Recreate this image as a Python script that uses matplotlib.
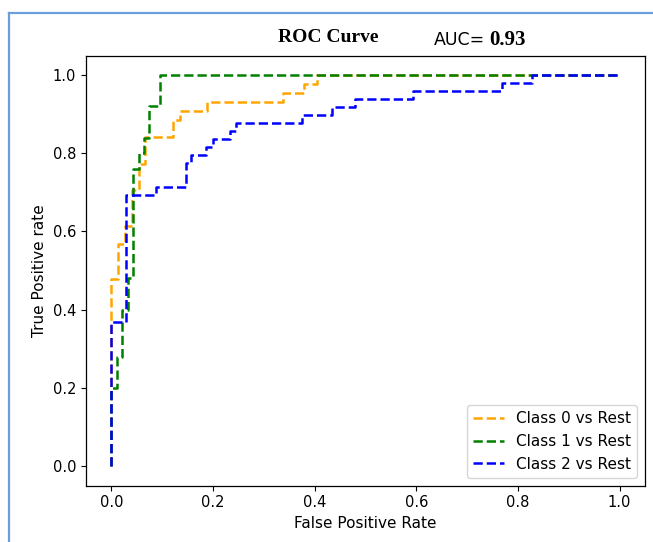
import matplotlib; matplotlib.use("Agg")
import matplotlib.pyplot as plt
from matplotlib.lines import Line2D

# ROC points (corner points, as roc_curve gives them)
fpr_0 = [0, 0, 0.013, 0.013, 0.026, 0.026, 0.041, 0.041, 0.054, 0.054, 0.067, 0.067,
         0.121, 0.121, 0.134, 0.134, 0.188, 0.188, 0.337, 0.337, 0.378, 0.378, 0.404, 0.404, 1.0]
tpr_0 = [0, 0.477, 0.477, 0.568, 0.568, 0.614, 0.614, 0.705, 0.705, 0.773, 0.773, 0.841,
         0.841, 0.886, 0.886, 0.909, 0.909, 0.932, 0.932, 0.955, 0.955, 0.977, 0.977, 1.0, 1.0]

fpr_1 = [0, 0, 0.0104, 0.0104, 0.021, 0.021, 0.032, 0.032, 0.043, 0.043, 0.054, 0.054,
         0.064, 0.064, 0.074, 0.074, 0.096, 0.096, 1.0]
tpr_1 = [0, 0.2, 0.2, 0.28, 0.28, 0.4, 0.4, 0.48, 0.48, 0.76, 0.76, 0.8,
         0.8, 0.84, 0.84, 0.92, 0.92, 1.0, 1.0]

fpr_2 = [0, 0, 0.028, 0.028, 0.087, 0.087, 0.146, 0.146, 0.157, 0.157, 0.187, 0.187,
         0.2, 0.2, 0.233, 0.233, 0.245, 0.245, 0.376, 0.376, 0.435, 0.435, 0.479, 0.479,
         0.594, 0.594, 0.768, 0.768, 0.827, 0.827, 1.0]
tpr_2 = [0, 0.367, 0.367, 0.694, 0.694, 0.714, 0.714, 0.776, 0.776, 0.796, 0.796, 0.816,
         0.816, 0.837, 0.837, 0.857, 0.857, 0.878, 0.878, 0.898, 0.898, 0.918, 0.918, 0.939,
         0.939, 0.959, 0.959, 0.98, 0.98, 1.0, 1.0]

labels = ["Class 0 vs Rest", "Class 1 vs Rest", "Class 2 vs Rest"]
colors = ["orange", "green", "blue"]
auc_text = "0.93"

# the screenshot was a slightly enlarged render, so scale fonts / lines up a bit
plt.rcParams["font.size"] = 11
plt.rcParams["lines.linewidth"] = 1.8
plt.rcParams["axes.linewidth"] = 0.9

fig = plt.figure(figsize=(6.53, 5.42), dpi=100)
ax = fig.add_axes([86 / 653, 1 - 485.5 / 542, 559 / 653, 430 / 542])

for fpr, tpr, lab, col in zip([fpr_0, fpr_1, fpr_2], [tpr_0, tpr_1, tpr_2], labels, colors):
    ax.plot(fpr, tpr, linestyle="--", color=col, label=lab)

ax.tick_params(labelsize=10.5)
ax.set_xlabel("False Positive Rate")
ax.set_ylabel("True Positive rate")
ax.legend(loc="lower right", fontsize=11)

# title pieces (screenshot has mixed fonts)
fig.text(328 / 653, 1 - 37 / 542, "ROC Curve", ha="center", va="center",
         family="Liberation Serif", weight="bold", fontsize=14)
fig.text(434 / 653, 1 - 40 / 542, "AUC=", ha="left", va="center", fontsize=12.5)
fig.text(489 / 653, 1 - 40 / 542, auc_text, ha="left", va="center",
         family="Liberation Serif", weight="bold", fontsize=15)

# light blue frame from the screenshot
border = "#6a9fdc"
fig.add_artist(Line2D([8.5 / 653, 8.5 / 653], [0, 1 - 12.5 / 542], color=border, lw=1.6))
fig.add_artist(Line2D([8.5 / 653, 1], [1 - 12.5 / 542, 1 - 12.5 / 542], color=border, lw=1.6))

fig.savefig("out.png", dpi=100)
